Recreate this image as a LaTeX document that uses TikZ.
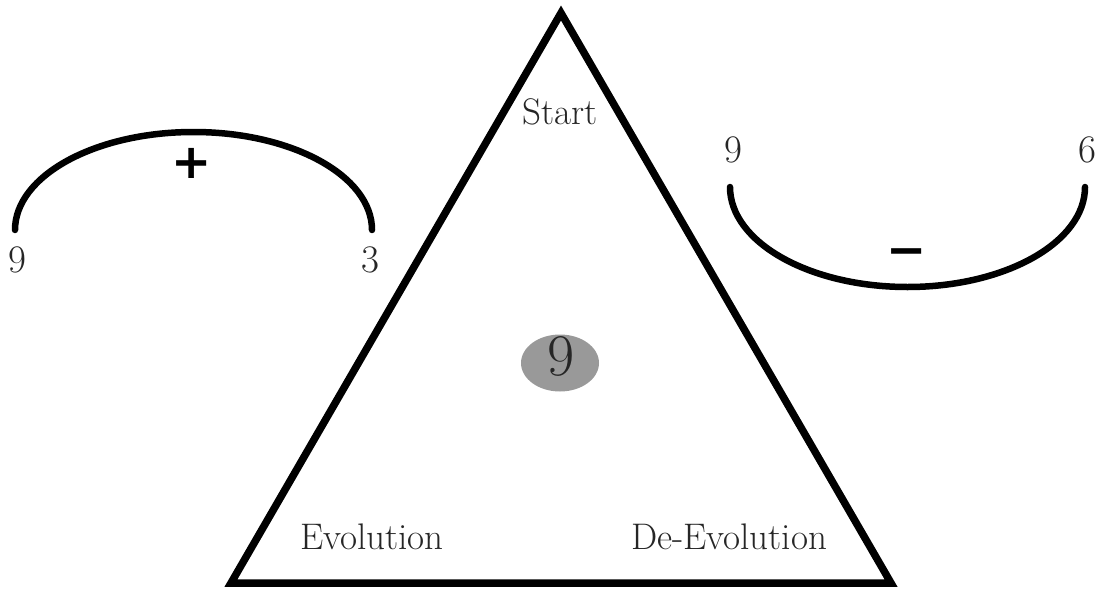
\documentclass[tikz,border=0pt]{standalone}
\usepackage{fontspec}
\newfontfamily\symfont{DejaVu Sans}
\usetikzlibrary{shapes.geometric}
\begin{document}
\begin{tikzpicture}[x=1pt,y=-1pt,
  txt/.style={text=black!85, inner sep=0pt, anchor=base, font=\fontsize{37}{40}\selectfont},
  num/.style={text=black!85, inner sep=0pt, anchor=base, font=\fontsize{39}{40}\selectfont},
  bignum/.style={text=black!85, inner sep=0pt, anchor=base, font=\fontsize{59}{60}\selectfont},
  sign/.style={inner sep=0pt, font=\symfont\bfseries\fontsize{48}{50}\selectfont},
  triline/.style={line width=7.5pt, line join=miter},
  arcline/.style={line width=6.5pt, line cap=round}]
\useasboundingbox (0,0) rectangle (1113,589);
% triangle
\coordinate (apex) at (561,13);
\coordinate (bl) at (231,583);
\coordinate (br) at (891,583);
\draw[triline] (apex) -- (br) -- (bl) -- cycle;
% centre
\node (core) [ellipse, fill=black!40, minimum width=78pt, minimum height=57pt, inner sep=0pt] at (560,363) {};
\node (coren) [bignum] at (561,375) {9};
% texts in triangle
\node (start) [txt] at (560,124) {Start};
\node (evo) [txt] at (372,549) {Evolution};
\node (devo) [txt] at (729,549) {De-Evolution};
% left arc
\coordinate (la) at (15,230);
\coordinate (lb) at (372,232);
\draw[arcline] (la) arc[start angle=180, end angle=0, x radius=178.5pt, y radius=98pt];
\node (plus) [sign] at (192,163) {+};
\node (l9) [num] at (17,272) {9};
\node (l3) [num] at (370,272) {3};
% right arc
\coordinate (ra) at (730,187);
\coordinate (rb) at (1085,188);
\draw[arcline] (ra) arc[start angle=180, end angle=360, x radius=177.5pt, y radius=100pt];
\node (minus) [sign] at (907,258) {−};
\node (r9) [num] at (733,162) {9};
\node (r6) [num] at (1087,162) {6};
\end{tikzpicture}
\end{document}
